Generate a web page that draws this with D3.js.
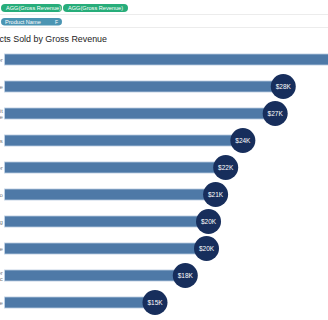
<!DOCTYPE html>
<html>
<head>
<meta charset="utf-8">
<script src="https://cdn.jsdelivr.net/npm/d3@7"></script>
<style>
  body { margin: 0; background: #fff; overflow: hidden; }
  svg { display: block; font-family: "Liberation Sans", Arial, sans-serif; }
</style>
</head>
<body>
<div id="chart"></div>
<script>
// top 10 products, sorted by revenue (names are cropped off in the reference)
var products = ["Deluxe Coffee Maker", "Espresso Machine", "Cold Brew Kit|Large", "French Press", "Ceramic Pour Over",
  "Grinder Pro", "Travel Mug", "Tea Kettle", "Milk Frother|Electric", "Drip Machine"];
var revenue = [33500, 27600, 26800, 23600, 21900, 20900, 20200, 20000, 17900, 14900];
var shelfPills = ["AGG(Gross Revenue)", "AGG(Gross Revenue)"];
var rowPill = "Product Name";

var width = 328, height = 320;
var svg = d3.select("#chart").append("svg").attr("width", width).attr("height", height);

var data = products.map(function(p, i){ return {name: p, value: revenue[i]}; });

// --- shelves ---
svg.append("line").attr("x1", 0).attr("x2", width).attr("y1", 14.5).attr("y2", 14.5).attr("stroke", "#ececec");
svg.append("line").attr("x1", 0).attr("x2", width).attr("y1", 27.5).attr("y2", 27.5).attr("stroke", "#ececec");

var pillX = [1, 63];
var pillW = [61, 65];
shelfPills.forEach(function(t, i){
  svg.append("rect").attr("x", pillX[i]).attr("y", 4).attr("width", pillW[i]).attr("height", 8)
    .attr("rx", 4).attr("fill", "#27ad7a");
  svg.append("text").attr("x", pillX[i] + 5).attr("y", 10.3).attr("fill", "#fff")
    .style("font-size", "5.6px").text(t);
});

svg.append("rect").attr("x", 1).attr("y", 18).attr("width", 61).attr("height", 7.5)
  .attr("rx", 3.75).attr("fill", "#4b95b3");
svg.append("text").attr("x", 5).attr("y", 24).attr("fill", "#fff").style("font-size", "5.6px").text(rowPill);
svg.append("text").attr("x", 55).attr("y", 24).attr("fill", "#fff").style("font-size", "5px").text("F");

// --- title (cropped on the left) ---
svg.append("text").attr("x", 107).attr("y", 42).attr("text-anchor", "end")
  .attr("fill", "#222").style("font-size", "8.9px")
  .text("Top 10 Products Sold by Gross Revenue");

// --- scales ---
var x = d3.scaleLinear().domain([0, 32000]).range([4.5, 4.5 + 323.2]);
var y = d3.scaleBand().domain(products).range([46, 316]).paddingInner(0.59).paddingOuter(0.295);

// row labels, right aligned at the cropped edge
var lab = svg.append("g").selectAll("text").data(data).enter().append("text")
  .attr("text-anchor", "end").attr("fill", "#777").style("font-size", "6px");
lab.each(function(d){
  var parts = d.name.split("|");
  var t = d3.select(this);
  var cy = y(d.name) + y.bandwidth() / 2;
  parts.forEach(function(p, k){
    t.append("tspan").attr("x", 2.8)
      .attr("y", cy + 2 + (k - (parts.length - 1) / 2) * 6).text(p);
  });
});

// bars
svg.append("g").selectAll("rect").data(data).enter().append("rect")
  .attr("x", x(0))
  .attr("y", d => y(d.name))
  .attr("width", d => x(d.value) - x(0))
  .attr("height", y.bandwidth())
  .attr("fill", "#4e79a7")
  .attr("stroke", "#c3d4e6").attr("stroke-width", 0.8);

// end circles with labels
var dots = svg.append("g").selectAll("g").data(data).enter().append("g")
  .attr("transform", d => "translate(" + x(d.value) + "," + (y(d.name) + y.bandwidth() / 2) + ")");
dots.append("circle").attr("r", 12.5).attr("fill", "#172e5c");
dots.append("text").attr("text-anchor", "middle").attr("dy", "0.35em")
  .attr("fill", "#fff").style("font-size", "6.5px")
  .text(d => "$" + Math.round(d.value / 1000) + "K");
</script>
</body>
</html>
